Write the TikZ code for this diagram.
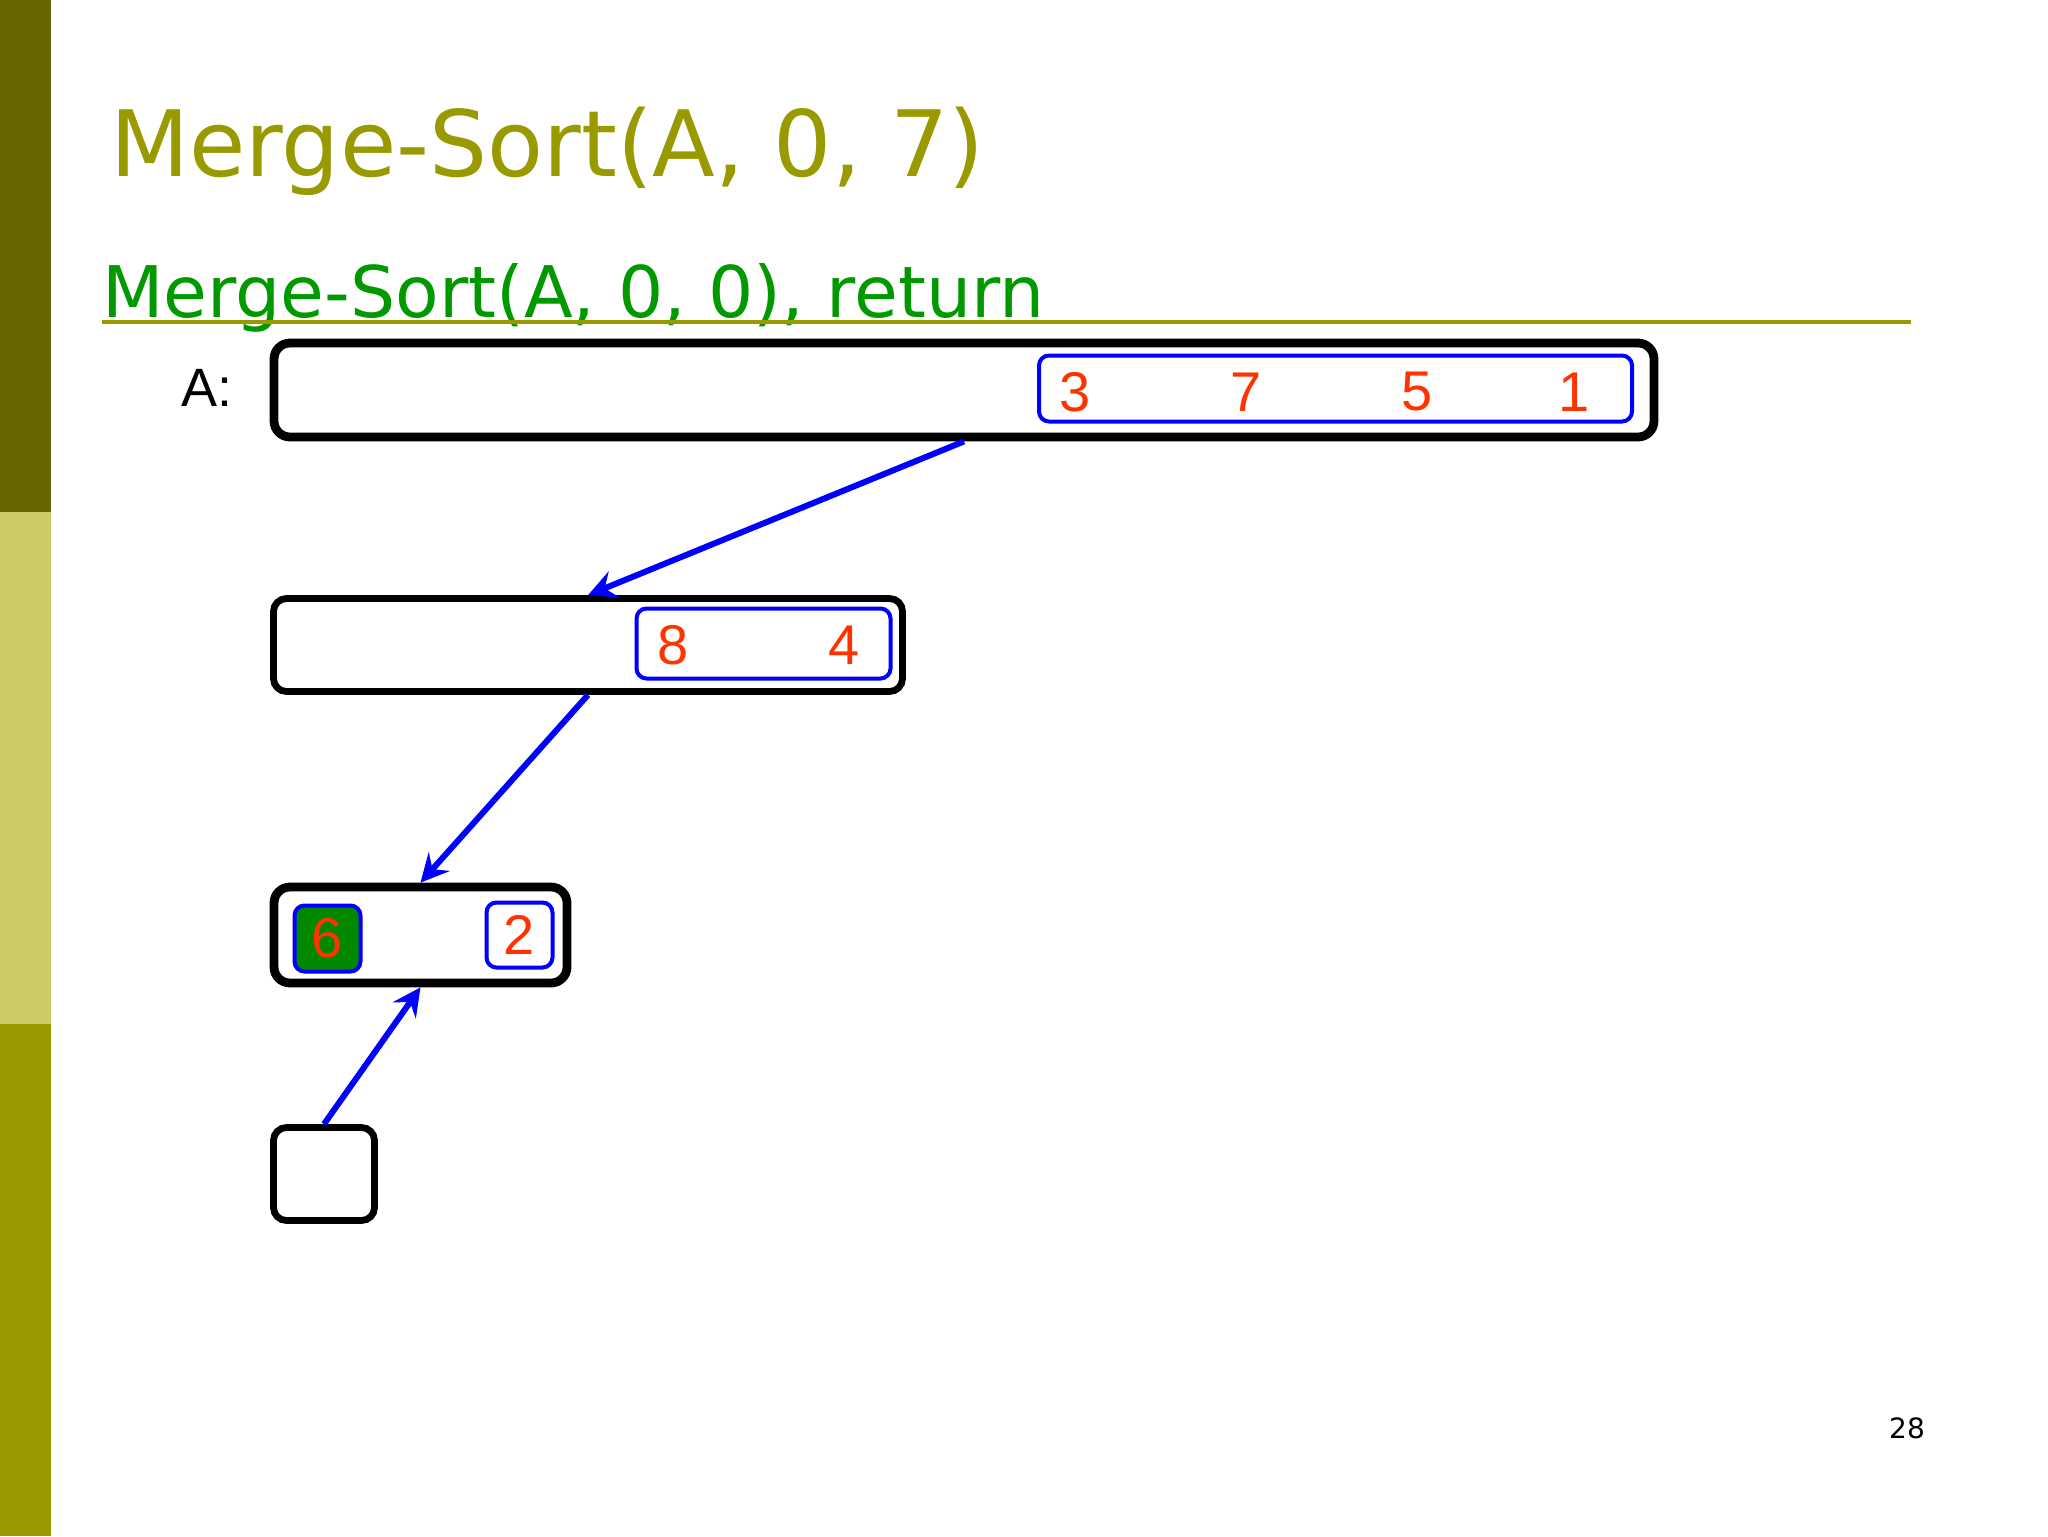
\documentclass[tikz,border=0pt]{standalone}
\usepackage{fontspec}
\newfontfamily\verd{DejaVu Sans}
\newfontfamily\arialf{Liberation Sans}
\usetikzlibrary{arrows.meta}
\definecolor{olivedark}{HTML}{666600}
\definecolor{olivelight}{HTML}{CCCC66}
\definecolor{olivemid}{HTML}{999900}
\definecolor{titlegreen}{HTML}{009900}
\definecolor{numred}{HTML}{FF3300}
\definecolor{cellgreen}{HTML}{008800}
\begin{document}
\begin{tikzpicture}[x=0.5pt,y=-0.5pt,
  outerbox/.style={draw=black,rounded corners=8pt,line width=4.4pt,inner sep=0pt,fill=white},
  thinbox/.style={draw=black,rounded corners=6.5pt,line width=3.4pt,inner sep=0pt,fill=white},
  bluebox/.style={draw=blue,rounded corners=5pt,line width=2pt,inner sep=0pt},
  num/.style={text=numred,font=\arialf\fontsize{28}{30}\selectfont,inner sep=0pt},
  conn/.style={draw=blue,line width=3pt,-{Stealth[length=14pt,width=14pt,inset=5pt]}}]
\useasboundingbox (0,0) rectangle (2048,1536);
\fill[white] (0,0) rectangle (2048,1536);
% left bar
\fill[olivedark] (0,0) rectangle (51,512);
\fill[olivelight] (0,512) rectangle (51,1024);
\fill[olivemid] (0,1024) rectangle (51,1536);
% titles
\node[anchor=base west,inner sep=0pt,text=olivemid,font=\verd\fontsize{45.8}{50}\selectfont] (title) at (110,176) {Merge-Sort(A, 0, 7)};
\node[anchor=base west,inner sep=0pt,text=titlegreen,font=\verd\fontsize{35.6}{40}\selectfont] (subtitle) at (102,317) {Merge-Sort(A, 0, 0), return};
\draw[olivemid,line width=1.6pt] (102,322) -- (1911,322);
% A label
\node[inner sep=0pt,font=\arialf\fontsize{27}{30}\selectfont] (alabel) at (207,388) {A:};
% boxes
\node[outerbox,minimum width=690pt,minimum height=47pt] (box1) at (964,390) {};
\node[bluebox,minimum width=296.5pt,minimum height=33pt] (blue1) at (1335.5,388.5) {};
\node[num] (n3) at (1075,392) {3};
\node[num] (n7) at (1246,392) {7};
\node[num] (n5) at (1417,392) {5};
\node[num] (n1) at (1574,392) {1};
\node[thinbox,minimum width=314.5pt,minimum height=46.5pt] (box2) at (588,645) {};
\node[bluebox,minimum width=127pt,minimum height=35pt] (blue2) at (763.5,643.5) {};
\node[num] (n8) at (673,645) {8};
\node[num] (n4) at (844,645) {4};
\node[outerbox,minimum width=146.5pt,minimum height=48pt] (box3) at (420.5,935) {};
\node[bluebox,fill=cellgreen,minimum width=33pt,minimum height=33pt] (cell6) at (327.5,938.5) {};
\node[num] (n6) at (327.5,938) {6};
\node[bluebox,minimum width=33pt,minimum height=32.5pt] (cell2) at (519.5,935) {};
\node[num] (n2) at (519.5,935) {2};
\node[thinbox,minimum width=50.5pt,minimum height=46.5pt] (box4) at (324,1174) {};
% connectors
\draw[conn] (box1.south) -- (box2.north);
\draw[conn] (box2.south) -- (box3.north);
\draw[conn] (box4.north) -- (box3.south);
% page number
\node[inner sep=0pt,font=\verd\fontsize{14}{16}\selectfont] (pagenum) at (1907,1428) {28};
\end{tikzpicture}
\end{document}
